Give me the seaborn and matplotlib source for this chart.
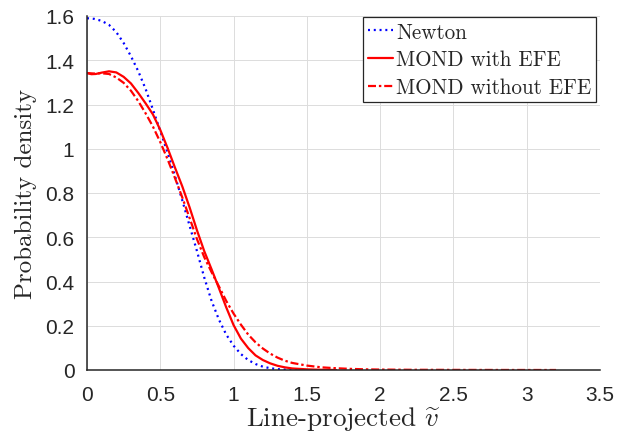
import numpy as np
import pandas as pd
import matplotlib
matplotlib.use("Agg")
import matplotlib.pyplot as plt
import seaborn as sns

# ---- data ----
newton_x = [0.00, 0.05, 0.10, 0.15, 0.20, 0.25, 0.30, 0.35, 0.40, 0.45, 0.50,
            0.55, 0.60, 0.65, 0.70, 0.75, 0.80, 0.85, 0.90, 0.95, 1.00, 1.05,
            1.10, 1.15, 1.20, 1.25, 1.30, 1.35, 1.40, 1.45]
newton_y = [1.590, 1.587, 1.578, 1.560, 1.527, 1.478, 1.418, 1.350, 1.270, 1.177, 1.080,
            0.982, 0.878, 0.767, 0.652, 0.538, 0.418, 0.312, 0.228, 0.160, 0.110, 0.072,
            0.045, 0.027, 0.015, 0.008, 0.004, 0.002, 0.001, 0.000]

efe_x = [0.00, 0.03, 0.06, 0.10, 0.15, 0.20, 0.25, 0.30, 0.35, 0.40, 0.45, 0.50,
         0.55, 0.60, 0.65, 0.70, 0.75, 0.80, 0.85, 0.90, 0.95, 1.00, 1.05, 1.10,
         1.15, 1.20, 1.25, 1.30, 1.35, 1.40, 1.50, 1.60, 1.70]
efe_y = [1.342, 1.337, 1.338, 1.344, 1.350, 1.345, 1.325, 1.295, 1.252, 1.205, 1.155, 1.085,
         1.003, 0.915, 0.830, 0.735, 0.632, 0.537, 0.455, 0.370, 0.283, 0.203, 0.142, 0.099,
         0.066, 0.045, 0.030, 0.019, 0.012, 0.007, 0.003, 0.001, 0.000]

noefe_x = [0.00, 0.05, 0.10, 0.15, 0.20, 0.25, 0.30, 0.35, 0.40, 0.45, 0.50,
           0.55, 0.60, 0.65, 0.70, 0.75, 0.80, 0.85, 0.90, 0.95, 1.00, 1.05,
           1.10, 1.15, 1.20, 1.25, 1.30, 1.35, 1.40, 1.50, 1.60, 1.70, 1.80,
           1.90, 2.00, 2.20, 2.50, 2.80, 3.20]
noefe_y = [1.342, 1.340, 1.341, 1.338, 1.322, 1.298, 1.262, 1.215, 1.160, 1.100, 1.030,
           0.952, 0.868, 0.780, 0.687, 0.592, 0.510, 0.442, 0.378, 0.312, 0.255, 0.205,
           0.160, 0.125, 0.097, 0.074, 0.056, 0.042, 0.032, 0.020, 0.012, 0.008, 0.005,
           0.003, 0.002, 0.001, 0.0005, 0.0002, 0.0]

labels = ["Newton", "MOND with EFE", "MOND without EFE"]
x_ticks = [0, 0.5, 1, 1.5, 2, 2.5, 3, 3.5]
x_ticklabels = ["0", "0.5", "1", "1.5", "2", "2.5", "3", "3.5"]
y_ticks = [0, 0.2, 0.4, 0.6, 0.8, 1.0, 1.2, 1.4, 1.6]
y_ticklabels = ["0", "0.2", "0.4", "0.6", "0.8", "1", "1.2", "1.4", "1.6"]

sns.set_style("white")
plt.rcParams["mathtext.fontset"] = "cm"
plt.rcParams["axes.unicode_minus"] = False

axc = "#262626"
fig = plt.figure(figsize=(6.17, 4.39), dpi=100)
ax = fig.add_axes([87 / 617, 68 / 439, 513 / 617, 354 / 439])

lw = 1.6
sns.lineplot(x=newton_x, y=newton_y, ax=ax, color="#0000ff", lw=lw,
             linestyle=(0, (0.9, 1.7)), label=labels[0], sort=False)
sns.lineplot(x=efe_x, y=efe_y, ax=ax, color="#ff0000", lw=lw,
             linestyle="-", label=labels[1], sort=False)
sns.lineplot(x=noefe_x, y=noefe_y, ax=ax, color="#ff0000", lw=lw,
             linestyle=(0, (3.6, 1.3, 1.1, 1.3)), label=labels[2], sort=False)

ax.set_xlim(0, 3.5)
ax.set_ylim(0, 1.6)
ax.set_xticks(x_ticks)
ax.set_xticklabels(x_ticklabels)
ax.set_yticks(y_ticks)
ax.set_yticklabels(y_ticklabels)

ax.grid(True, color="#dcdcdc", lw=0.7)
ax.set_axisbelow(True)
for s in ["top", "right"]:
    ax.spines[s].set_visible(False)
for s in ["left", "bottom"]:
    ax.spines[s].set_color(axc)
    ax.spines[s].set_linewidth(1.1)

ax.tick_params(axis="both", direction="in", length=3.5, width=1.0, color=axc,
               labelcolor=axc, labelsize=15)
ax.tick_params(axis="x", pad=11)
ax.tick_params(axis="y", pad=9)
for t in ax.get_xticklabels() + ax.get_yticklabels():
    t.set_fontfamily("Liberation Sans")

ax.set_xlabel(r"Line-projected $\widetilde{v}$", fontfamily="cmr10",
              fontsize=19.5, color=axc, labelpad=0)
ax.set_ylabel("Probability density", fontfamily="cmr10",
              fontsize=18, color=axc, labelpad=6)

leg = ax.legend(loc="upper right", bbox_to_anchor=(0.993, 0.997), borderaxespad=0,
                prop={"family": "cmr10", "size": 15.2}, frameon=True, fancybox=False,
                framealpha=1, edgecolor=axc, handlelength=1.15, handletextpad=0.15,
                labelspacing=0.38, borderpad=0.25)
leg.get_frame().set_linewidth(0.9)
for t in leg.get_texts():
    t.set_color(axc)

fig.savefig("out.png", dpi=100)
